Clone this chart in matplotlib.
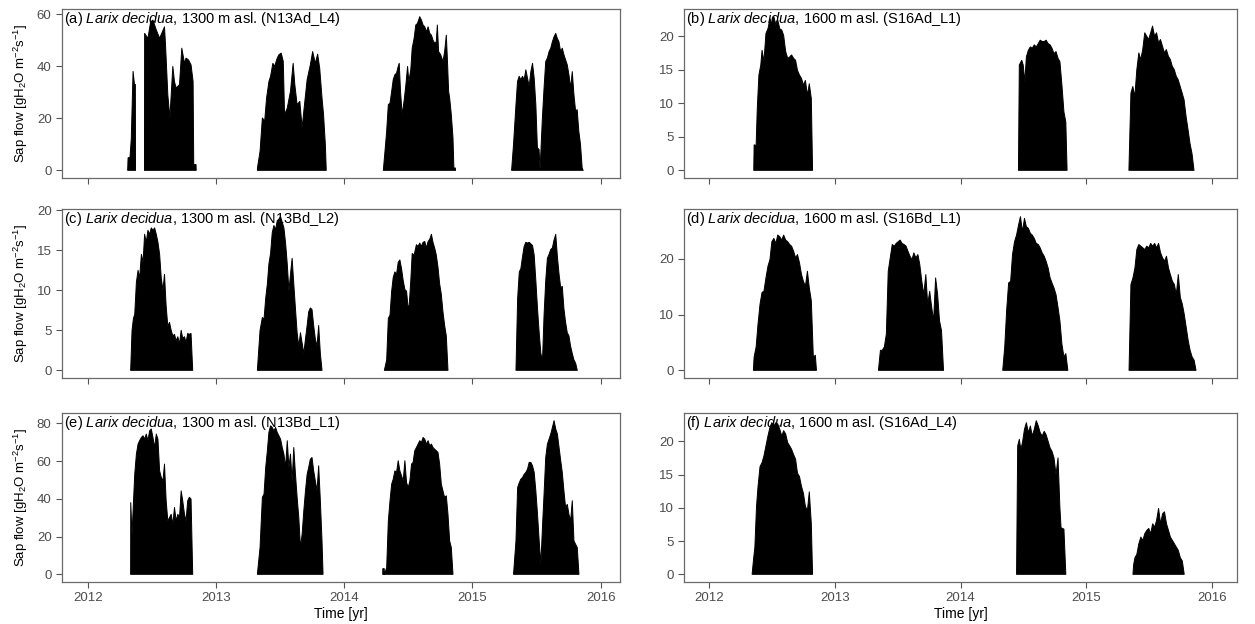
import numpy as np
import matplotlib.pyplot as plt
from matplotlib.ticker import MultipleLocator

nan = np.nan

# envelope of the daily sap flow maxima (decimal year, value)
a_t = [2012.312, 2012.315, 2012.330, 2012.340, 2012.354, 2012.365, 2012.372, 2012.373, nan,
       2012.443, 2012.444, 2012.470, 2012.491, 2012.509, 2012.535, 2012.561, 2012.599, 2012.607,
       2012.625, 2012.641, 2012.664, 2012.677, 2012.690, 2012.716, 2012.734, 2012.755, 2012.767,
       2012.786, 2012.806, 2012.822, 2012.827, 2012.845, 2012.846, nan,
       2013.323, 2013.324, 2013.344, 2013.362, 2013.380, 2013.395, 2013.413, 2013.426, 2013.444,
       2013.457, 2013.478, 2013.491, 2013.509, 2013.525, 2013.535, 2013.556, 2013.581, 2013.602,
       2013.615, 2013.633, 2013.654, 2013.672, 2013.685, 2013.711, 2013.736, 2013.754, 2013.775,
       2013.793, 2013.809, 2013.827, 2013.839, 2013.853, 2013.860, nan,
       2014.305, 2014.318, 2014.331, 2014.344, 2014.357, 2014.370, 2014.382, 2014.395, 2014.408,
       2014.421, 2014.429, 2014.439, 2014.452, 2014.468, 2014.481, 2014.494, 2014.504, 2014.519,
       2014.530, 2014.545, 2014.558, 2014.571, 2014.589, 2014.602, 2014.615, 2014.628, 2014.641,
       2014.654, 2014.667, 2014.680, 2014.692, 2014.705, 2014.718, 2014.726, 2014.736, 2014.752,
       2014.770, 2014.783, 2014.796, 2014.804, 2014.814, 2014.822, 2014.835, 2014.848, 2014.855,
       2014.866, 2014.868, nan,
       2015.305, 2015.320, 2015.339, 2015.351, 2015.364, 2015.377, 2015.390, 2015.403, 2015.416,
       2015.429, 2015.442, 2015.455, 2015.468, 2015.481, 2015.494, 2015.506, 2015.519, 2015.527,
       2015.545, 2015.558, 2015.571, 2015.584, 2015.597, 2015.610, 2015.623, 2015.636, 2015.649,
       2015.661, 2015.674, 2015.687, 2015.700, 2015.713, 2015.726, 2015.739, 2015.752, 2015.765,
       2015.778, 2015.791, 2015.804, 2015.816, 2015.829, 2015.842, 2015.855, 2015.863]
a_v = [0, 4.8, 5, 12, 38, 33, 33, 0, nan,
       0, 52.6, 50.7, 57, 57.7, 53.9, 50.7, 55.1, 48.2,
       29, 20.1, 39.9, 34, 31.6, 32.9, 46.9, 41.1, 43.1,
       42.4, 40.5, 34.1, 2.2, 2.2, 0, nan,
       0, 1, 7.3, 20.1, 18.9, 27.8, 34.1, 36.1, 41.1,
       39.9, 43.1, 44.4, 45, 41.8, 21.4, 23.9, 30.3, 41.1,
       32.9, 25.2, 26.5, 16.3, 22.7, 34.8, 40.5, 45.6, 41.1,
       44.6, 39.2, 27.8, 21.4, 9.9, 0, nan,
       0, 7.4, 15, 25.2, 25.8, 30.3, 34.8, 36.7, 37.3,
       39.9, 41.1, 30.3, 21.4, 27.1, 32.9, 39.9, 34.1, 38.6,
       46.9, 50.7, 55.8, 56.4, 59, 57.7, 55.8, 55.1, 53.2,
       55.1, 52.6, 51.9, 50, 48.8, 49.4, 55.8, 45.6, 44.4,
       41.8, 45.6, 51.9, 43.1, 30.3, 27.8, 21.4, 12.5, 0.9,
       0.9, 0, nan,
       0, 10, 25.2, 34.1, 36.1, 34.8, 36.1, 34.8, 38.6,
       35.4, 32.2, 37.9, 41.1, 35.4, 25.2, 8.7, 8.0, 0.4,
       20.1, 31.6, 41.8, 43.1, 45.6, 46.9, 49.4, 51.3, 52.6,
       50.7, 49.4, 45.6, 46.9, 44.4, 42.4, 40.5, 36.7, 31.6,
       37.9, 29.0, 22.7, 23.3, 15.0, 10.0, 0.9, 0]

c_t = [2012.335, 2012.336, 2012.346, 2012.357, 2012.367, 2012.380, 2012.393, 2012.405, 2012.419,
       2012.432, 2012.444, 2012.457, 2012.470, 2012.483, 2012.496, 2012.509, 2012.522, 2012.535,
       2012.548, 2012.561, 2012.574, 2012.587, 2012.599, 2012.612, 2012.625, 2012.638, 2012.651,
       2012.664, 2012.677, 2012.690, 2012.703, 2012.716, 2012.729, 2012.741, 2012.755, 2012.767,
       2012.780, 2012.793, 2012.806, 2012.819, nan,
       2013.323, 2013.344, 2013.362, 2013.375, 2013.388, 2013.401, 2013.413, 2013.426, 2013.439,
       2013.452, 2013.465, 2013.478, 2013.491, 2013.504, 2013.517, 2013.530, 2013.543, 2013.556,
       2013.569, 2013.581, 2013.594, 2013.607, 2013.620, 2013.633, 2013.646, 2013.659, 2013.672,
       2013.685, 2013.698, 2013.711, 2013.723, 2013.736, 2013.749, 2013.762, 2013.775, 2013.788,
       2013.801, 2013.814, 2013.827, nan,
       2014.313, 2014.331, 2014.344, 2014.357, 2014.370, 2014.382, 2014.395, 2014.408, 2014.421,
       2014.434, 2014.447, 2014.460, 2014.473, 2014.486, 2014.499, 2014.507, 2014.519, 2014.530,
       2014.545, 2014.563, 2014.576, 2014.589, 2014.602, 2014.615, 2014.628, 2014.641, 2014.654,
       2014.667, 2014.680, 2014.692, 2014.705, 2014.718, 2014.731, 2014.744, 2014.757, 2014.770,
       2014.783, 2014.796, 2014.809, nan,
       2015.339, 2015.352, 2015.365, 2015.377, 2015.390, 2015.403, 2015.416, 2015.429, 2015.442,
       2015.455, 2015.468, 2015.481, 2015.494, 2015.507, 2015.520, 2015.533, 2015.546, 2015.558,
       2015.571, 2015.584, 2015.597, 2015.610, 2015.623, 2015.636, 2015.649, 2015.662, 2015.675,
       2015.688, 2015.700, 2015.713, 2015.726, 2015.739, 2015.752, 2015.765, 2015.778, 2015.791,
       2015.804, 2015.817]
c_v = [0, 0.3, 5, 6.5, 7, 11, 12.5, 11.5, 14.5,
       13.5, 17, 16, 17.5, 17, 17.8, 17.5, 17.8, 17,
       16, 14.5, 11.5, 10, 12, 8, 5.5, 6, 5,
       4.3, 4.5, 3.7, 4.2, 3.3, 5, 4, 4.2, 3.5,
       4.6, 4.5, 4.6, 0, nan,
       0, 5, 6.6, 6.4, 9, 10.8, 13.3, 14.6, 17.2,
       18.1, 17.6, 18.7, 18.9, 19.2, 18.5, 17.8, 15.9, 13.3,
       9.9, 12, 14, 10.8, 7.7, 4.7, 3, 4.7, 3.4,
       2.1, 3.9, 5.6, 7.3, 7.8, 7.6, 5.6, 3.9, 3,
       5.6, 2.1, 0, nan,
       0, 1.3, 6.5, 6.9, 9.9, 11.6, 12.3, 12, 13.5,
       13.8, 12.7, 11.2, 10.1, 9.9, 7.7, 8.2, 11.2, 14.6,
       14.4, 15.7, 15.5, 15.9, 15.5, 16, 16.1, 15.3, 16.1,
       16.4, 17, 16, 15.3, 14.4, 12.9, 10.8, 9.5, 7.3,
       5.6, 4.3, 0, nan,
       0, 9, 12.3, 12.7, 14.2, 15.5, 16, 15.9, 16,
       15.8, 15.6, 14.4, 11.2, 7.7, 4.7, 2.1, 1.3, 6.9,
       11.2, 14, 14.5, 15.1, 15.3, 16.3, 17, 14.2, 12,
       10.3, 10.5, 7.7, 6, 4.7, 4.3, 3, 2.1, 1.3,
       0.9, 0]

e_t = [2012.335, 2012.336, 2012.346, 2012.357, 2012.367, 2012.380, 2012.393, 2012.405, 2012.419,
       2012.432, 2012.444, 2012.457, 2012.470, 2012.483, 2012.496, 2012.509, 2012.522, 2012.535,
       2012.548, 2012.561, 2012.574, 2012.587, 2012.599, 2012.612, 2012.625, 2012.638, 2012.651,
       2012.664, 2012.677, 2012.690, 2012.703, 2012.716, 2012.729, 2012.741, 2012.755, 2012.767,
       2012.780, 2012.793, 2012.806, 2012.819, nan,
       2013.323, 2013.344, 2013.362, 2013.375, 2013.388, 2013.401, 2013.413, 2013.426, 2013.439,
       2013.452, 2013.465, 2013.478, 2013.491, 2013.504, 2013.517, 2013.530, 2013.543, 2013.556,
       2013.569, 2013.581, 2013.594, 2013.607, 2013.620, 2013.633, 2013.646, 2013.659, 2013.672,
       2013.685, 2013.698, 2013.711, 2013.723, 2013.736, 2013.749, 2013.762, 2013.775, 2013.788,
       2013.801, 2013.814, 2013.827, 2013.835, nan,
       2014.300, 2014.301, 2014.312, 2014.313, 2014.331, 2014.344, 2014.357, 2014.370, 2014.382,
       2014.395, 2014.408, 2014.421, 2014.434, 2014.447, 2014.460, 2014.473, 2014.486, 2014.499,
       2014.512, 2014.525, 2014.537, 2014.550, 2014.563, 2014.576, 2014.589, 2014.602, 2014.615,
       2014.628, 2014.641, 2014.654, 2014.667, 2014.680, 2014.692, 2014.705, 2014.718, 2014.731,
       2014.744, 2014.757, 2014.770, 2014.783, 2014.796, 2014.809, 2014.822, 2014.835, 2014.848, nan,
       2015.320, 2015.339, 2015.352, 2015.365, 2015.377, 2015.390, 2015.403, 2015.416, 2015.429,
       2015.442, 2015.455, 2015.468, 2015.481, 2015.494, 2015.507, 2015.520, 2015.533, 2015.546,
       2015.558, 2015.571, 2015.584, 2015.597, 2015.610, 2015.623, 2015.636, 2015.649, 2015.662,
       2015.675, 2015.688, 2015.700, 2015.713, 2015.726, 2015.739, 2015.752, 2015.765, 2015.778,
       2015.791, 2015.804, 2015.817, 2015.830]
e_v = [0, 38, 21, 38, 53, 63.7, 69, 70.8, 72.5,
       73.4, 71.6, 74.3, 70.8, 76, 77, 72.5, 67.2, 74.3,
       71.6, 54.8, 51.3, 49.5, 58.4, 39, 28.3, 30, 31.8,
       26.5, 35.4, 28.3, 31.8, 30, 44.2, 39, 31.8, 28.3,
       39, 40.8, 39.9, 0, nan,
       0, 14.2, 40.8, 42.5, 56.6, 65.5, 75.2, 78.7, 77.8,
       76, 77.8, 75.2, 73.4, 71.6, 67.2, 63.7, 56.6, 70.8,
       56.6, 63.7, 49.5, 67.2, 53, 40.8, 30.1, 14.2, 21.2,
       33.6, 44.2, 53, 56.6, 61, 61.9, 54.8, 49.5, 44.2,
       57.5, 39, 17.7, 0, nan,
       0, 3, 3, 0, 3.5, 28.3, 38.9, 47.8, 50.4,
       54.8, 54, 60.2, 54.8, 52.2, 49.5, 60.2, 48.6, 46,
       49.5, 58.4, 59.3, 65.5, 67.2, 69, 70.8, 69.9, 72.5,
       71.6, 69, 70.8, 68.1, 69, 67.2, 66.3, 65.5, 64.6,
       58.4, 47.8, 44.2, 40.7, 41.6, 31.8, 17.7, 14.2, 0, nan,
       0, 17.7, 46, 48.6, 50.4, 51.3, 53, 54, 55.7,
       59.3, 59.3, 57.5, 54, 44.2, 31.8, 17.7, 5.3, 25.6,
       42.5, 61.9, 69, 71.6, 74.3, 77.8, 81.4, 77, 74.3,
       67.2, 60.2, 54, 44.2, 35.4, 37.1, 31.8, 28.3, 39,
       17.7, 15.9, 14.2, 0]

b_t = [2012.355, 2012.358, 2012.374, 2012.383, 2012.396, 2012.411, 2012.421, 2012.436, 2012.452,
       2012.468, 2012.484, 2012.499, 2012.515, 2012.531, 2012.546, 2012.562, 2012.578, 2012.593,
       2012.609, 2012.625, 2012.641, 2012.656, 2012.672, 2012.688, 2012.703, 2012.719, 2012.735,
       2012.750, 2012.766, 2012.782, 2012.797, 2012.813, 2012.823, nan,
       2014.461, 2014.468, 2014.487, 2014.499, 2014.512, 2014.524, 2014.540, 2014.556, 2014.571,
       2014.587, 2014.603, 2014.619, 2014.634, 2014.650, 2014.666, 2014.681, 2014.697, 2014.713,
       2014.728, 2014.744, 2014.760, 2014.776, 2014.791, 2014.807, 2014.823, 2014.838, 2014.848, nan,
       2015.340, 2015.356, 2015.371, 2015.387, 2015.403, 2015.419, 2015.434, 2015.450, 2015.466,
       2015.481, 2015.497, 2015.513, 2015.528, 2015.544, 2015.560, 2015.576, 2015.591, 2015.607,
       2015.623, 2015.638, 2015.654, 2015.670, 2015.685, 2015.701, 2015.717, 2015.732, 2015.748,
       2015.764, 2015.779, 2015.795, 2015.811, 2015.826, 2015.842, 2015.858]
b_v = [0, 3.8, 3.7, 9.2, 14.2, 15.7, 17.9, 16.2, 20.4,
       21.1, 22.6, 21.9, 22.9, 21.6, 22.4, 21.1, 20.9, 20.1,
       17.7, 16.7, 16.9, 17.2, 16.7, 16.4, 14.9, 14.2, 13.7,
       12.7, 13.4, 11.2, 12.9, 10.7, 0, nan,
       0, 15.7, 16.4, 15.7, 13.2, 16.9, 17.9, 18.4, 18.2,
       18.7, 18.4, 18.9, 19.4, 19.2, 19.2, 19.4, 18.9, 18.7,
       18.2, 17.4, 17.7, 16.7, 16.2, 12.7, 8.7, 7.2, 0, nan,
       0, 11.5, 12.5, 11, 15, 17.5, 16.5, 18, 20.5,
       20, 19.5, 20.5, 21.5, 20, 20.5, 19, 19.5, 18.5,
       17.5, 18, 17, 16.5, 15.5, 15, 14, 13.5, 12.5,
       11.5, 10.5, 8, 6, 4, 2.5, 0]

d_t = [2012.352, 2012.358, 2012.374, 2012.389, 2012.405, 2012.421, 2012.436, 2012.452, 2012.468,
       2012.484, 2012.499, 2012.515, 2012.531, 2012.546, 2012.562, 2012.578, 2012.593, 2012.609,
       2012.625, 2012.641, 2012.656, 2012.672, 2012.688, 2012.703, 2012.719, 2012.735, 2012.750,
       2012.766, 2012.782, 2012.797, 2012.813, 2012.829, 2012.845, 2012.854, nan,
       2013.347, 2013.363, 2013.378, 2013.394, 2013.410, 2013.425, 2013.441, 2013.457, 2013.473,
       2013.488, 2013.504, 2013.520, 2013.535, 2013.551, 2013.567, 2013.582, 2013.598, 2013.614,
       2013.629, 2013.645, 2013.661, 2013.676, 2013.692, 2013.708, 2013.724, 2013.739, 2013.755,
       2013.771, 2013.786, 2013.802, 2013.818, 2013.833, 2013.849, 2013.865, nan,
       2014.336, 2014.352, 2014.367, 2014.383, 2014.399, 2014.414, 2014.430, 2014.446, 2014.462,
       2014.477, 2014.493, 2014.509, 2014.524, 2014.540, 2014.556, 2014.571, 2014.587, 2014.603,
       2014.619, 2014.634, 2014.650, 2014.666, 2014.681, 2014.697, 2014.713, 2014.728, 2014.744,
       2014.760, 2014.776, 2014.791, 2014.807, 2014.823, 2014.838, 2014.854, nan,
       2015.341, 2015.356, 2015.372, 2015.388, 2015.403, 2015.419, 2015.435, 2015.451, 2015.466,
       2015.482, 2015.498, 2015.513, 2015.529, 2015.545, 2015.560, 2015.576, 2015.592, 2015.608,
       2015.623, 2015.639, 2015.655, 2015.670, 2015.686, 2015.702, 2015.717, 2015.733, 2015.749,
       2015.765, 2015.780, 2015.796, 2015.812, 2015.827, 2015.843, 2015.859, 2015.874]
d_v = [0, 2.4, 4.2, 8.3, 11.9, 14, 14.2, 16.6, 18.7,
       19.9, 23.1, 23.7, 22.8, 24.3, 24, 23.4, 24.3, 23.4,
       23.1, 22.6, 22.3, 21.4, 20.2, 20.8, 19.3, 17.2, 16,
       15.1, 17.8, 14.8, 12.5, 2.4, 2.7, 0, nan,
       0, 3.6, 3.6, 4.2, 6.5, 17.8, 20.2, 22.6, 22.3,
       22.8, 23.1, 23.4, 22.8, 22.6, 22.3, 21.4, 20.5, 19.9,
       21.1, 20.2, 20.8, 19, 16, 13.6, 17.2, 11.9, 14.2,
       11.3, 8.9, 16.6, 13.6, 8.9, 7.1, 0, nan,
       0, 4.2, 10.7, 15.7, 16, 20.8, 23.1, 24.3, 26.1,
       27.6, 24.9, 27.3, 25.8, 25.5, 24.6, 24.3, 23.7, 22.8,
       22.6, 22, 21.1, 20.5, 19.6, 18.4, 16.6, 15.7, 14.8,
       13.6, 11.3, 8.9, 4.7, 2.4, 3, 0, nan,
       0, 15.4, 16.6, 18.4, 21.7, 22.6, 22.3, 22, 21.7,
       22.3, 22, 22.8, 22.3, 22.8, 22, 22.8, 21.1, 20.2,
       19.6, 20.5, 18.4, 17.2, 16, 15.4, 13.6, 17.2, 13.1,
       11.9, 10.1, 7.7, 5.3, 3.6, 2.4, 1.8, 0]

f_t = [2012.342, 2012.352, 2012.364, 2012.377, 2012.389, 2012.405, 2012.421, 2012.436, 2012.452,
       2012.468, 2012.484, 2012.499, 2012.515, 2012.531, 2012.546, 2012.562, 2012.578, 2012.593,
       2012.609, 2012.625, 2012.641, 2012.656, 2012.672, 2012.688, 2012.703, 2012.719, 2012.735,
       2012.750, 2012.766, 2012.782, 2012.797, 2012.813, 2012.823, nan,
       2014.446, 2014.455, 2014.468, 2014.480, 2014.493, 2014.509, 2014.524, 2014.540, 2014.556,
       2014.571, 2014.587, 2014.603, 2014.619, 2014.634, 2014.650, 2014.666, 2014.681, 2014.697,
       2014.713, 2014.728, 2014.744, 2014.760, 2014.776, 2014.791, 2014.800, 2014.823, 2014.838, nan,
       2015.372, 2015.378, 2015.388, 2015.403, 2015.419, 2015.435, 2015.451, 2015.466, 2015.482,
       2015.498, 2015.513, 2015.529, 2015.545, 2015.560, 2015.576, 2015.592, 2015.608, 2015.623,
       2015.639, 2015.655, 2015.670, 2015.686, 2015.702, 2015.717, 2015.733, 2015.749, 2015.765,
       2015.780]
f_v = [0, 2, 4.1, 10.2, 13.2, 16.2, 16.8, 17.8, 19.3,
       20.8, 22.1, 22.8, 22.3, 22.8, 22.6, 21.8, 20.8, 21.6,
       21.1, 19.8, 19.3, 18.8, 18, 17.3, 15.2, 14.7, 13.2,
       12.2, 10.2, 9.6, 12.4, 7.6, 0, nan,
       0, 19.3, 20.3, 18.8, 19.8, 21.8, 22.8, 21.3, 22.3,
       20.8, 21.8, 23.1, 22.3, 21.3, 20.8, 21.5, 21, 20,
       19, 18.5, 17.5, 15, 17.5, 10, 7, 6.8, 0, nan,
       0, 1.5, 2.5, 3, 4.6, 5.6, 5.1, 6.1, 6.6,
       6.9, 6.1, 7.6, 7.1, 8.1, 9.9, 7.6, 9.1, 9.4,
       7.6, 6.6, 5.6, 5.1, 4.6, 4.1, 3.6, 2.5, 2,
       0]

labels = ['(a) $\\mathit{Larix\\ decidua}$, 1300 m asl. (N13Ad_L4)',
          '(b) $\\mathit{Larix\\ decidua}$, 1600 m asl. (S16Ad_L1)',
          '(c) $\\mathit{Larix\\ decidua}$, 1300 m asl. (N13Bd_L2)',
          '(d) $\\mathit{Larix\\ decidua}$, 1600 m asl. (S16Bd_L1)',
          '(e) $\\mathit{Larix\\ decidua}$, 1300 m asl. (N13Bd_L1)',
          '(f) $\\mathit{Larix\\ decidua}$, 1600 m asl. (S16Ad_L4)']
series = [(a_t, a_v), (b_t, b_v), (c_t, c_v), (d_t, d_v), (e_t, e_v), (f_t, f_v)]
ysteps = [20, 5, 5, 10, 20, 5]
years = [2012, 2013, 2014, 2015, 2016]

plt.rcParams['font.family'] = ['Liberation Sans', 'DejaVu Sans']
plt.rcParams['mathtext.fontset'] = 'custom'
plt.rcParams['mathtext.rm'] = 'Liberation Sans'
plt.rcParams['mathtext.it'] = 'Liberation Sans:italic'

W, H = 1255, 624
fig = plt.figure(figsize=(W / 100, H / 100), dpi=100)

cols = [(62, 620, (2011.80, 2016.15)), (684, 1237, (2011.80, 2016.20))]
rows = [(9, 178), (209, 378), (413, 582)]

for i, (t, v) in enumerate(series):
    r, c = i // 2, i % 2
    x0, x1, xl = cols[c]
    y0, y1 = rows[r]
    ax = fig.add_axes([x0 / W, 1 - y1 / H, (x1 - x0) / W, (y1 - y0) / H])
    t = np.array(t, dtype=float)
    v = np.array(v, dtype=float)
    ax.fill_between(t, 0, v, color='black', lw=0.7, edgecolor='black')
    ax.set_xlim(*xl)
    vmax = np.nanmax(v)
    ax.set_ylim(-0.05 * vmax, 1.05 * vmax)
    ax.yaxis.set_major_locator(MultipleLocator(ysteps[i]))
    ax.set_xticks(years)
    for s in ax.spines.values():
        s.set_color('#6a6a6a')
        s.set_linewidth(0.9)
    ax.tick_params(direction='out', length=4, width=0.8, color='#555555',
                   labelcolor='#4d4d4d', labelsize=9.5)
    ax.text(0.004, 0.995, labels[i], transform=ax.transAxes, ha='left', va='top',
            fontsize=10.5, color='black', zorder=5)
    if r < 2:
        ax.tick_params(labelbottom=False)
    else:
        ax.set_xlabel('Time [yr]', fontsize=10)
        ax.xaxis.set_label_coords(0.5, -0.145)
    if c == 0:
        ax.set_ylabel('Sap flow [gH$_2$O m$^{-2}$s$^{-1}$]', fontsize=9.5)
        ax.yaxis.set_label_coords(-0.058, 0.5)

fig.savefig('out.png', dpi=100)
